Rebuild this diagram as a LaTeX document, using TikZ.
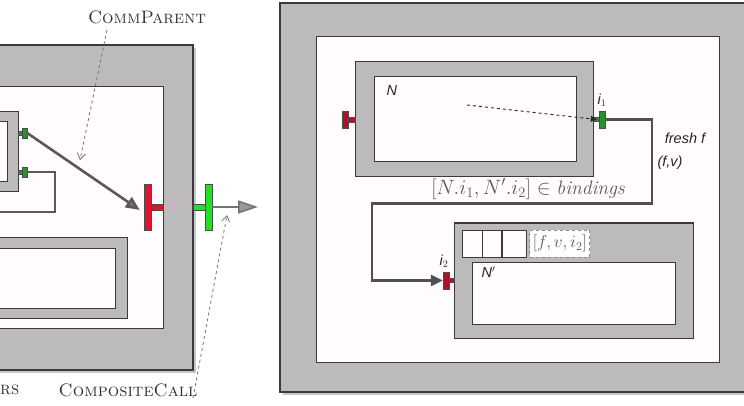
\documentclass[tikz,border=0pt]{standalone}
\usepackage{fontspec}
\newfontfamily\lab{Liberation Sans}
\usetikzlibrary{shadows,arrows.meta}
\definecolor{boxgray}{HTML}{BDBABD}
\definecolor{edge}{HTML}{3A3A3A}
\definecolor{paper}{HTML}{FFFBFF}
\definecolor{redA}{HTML}{E0142E}
\definecolor{greenA}{HTML}{22E022}
\definecolor{redB}{HTML}{B0122E}
\definecolor{greenB}{HTML}{2E8E2E}
\definecolor{wire}{HTML}{505050}
\begin{document}
\begin{tikzpicture}[x=1pt,y=-1pt,
  outerbox/.style={fill=boxgray, draw=edge, line width=1.2pt,
     drop shadow={shadow xshift=2.5pt, shadow yshift=-3pt, opacity=0.45}},
  graybox/.style={fill=boxgray, draw=edge, line width=1pt},
  whitebox/.style={fill=paper, draw=edge, line width=1pt},
  portA/.style={draw=black!70, line width=.5pt, inner sep=0pt, minimum width=7pt, minimum height=46pt},
  portB/.style={draw=black!70, line width=.4pt, inner sep=0pt, minimum width=6pt, minimum height=17pt},
  portS/.style={draw=black!70, line width=.4pt, inner sep=0pt, minimum width=5pt, minimum height=10pt, fill=greenB},
  sclabel/.style={font=\fontsize{18}{21}\selectfont, text=black!80},
  sanslabel/.style={font=\lab\itshape\fontsize{14.5}{16}\selectfont, text=black!85},
  mathlabel/.style={font=\fontsize{19.5}{22}\selectfont, text=black!65},
  pointer/.style={dashed, draw=black!55, line width=.8pt, -{Straight Barb[length=6pt,width=8pt]}},
  thickwire/.style={draw=black!65, line width=2.6pt},
  wirearrow/.style={draw=wire, line width=2.6pt, -{Triangle[length=12pt,width=11pt]}}
]
\path[use as bounding box] (0,0) rectangle (744,406);
\clip (0,0) rectangle (744,406);

% ---------------- left picture ----------------
\path[outerbox] (-20,45) rectangle (193,370);
\path[whitebox] (-20,87) rectangle (163,328);
\path[graybox] (-20,112) rectangle (18,192);
\path[whitebox] (-20,122) rectangle (7,182);
\path[graybox] (-20,237) rectangle (127,318);
\path[whitebox] (-20,248) rectangle (115,308);

% small green ports
\draw[fill=greenB, draw=black!70, line width=.4pt] (18,131) rectangle (22,135);
\node[portS] (g1) at (24.5,133) {};
\draw[fill=greenB, draw=black!70, line width=.4pt] (18,170) rectangle (22,174);
\node[portS] (g2) at (24.5,172) {};

% red port on inner boundary
\draw[fill=redA, draw=black!70, line width=.5pt] (151,204) rectangle (163,210);
\node[portA, fill=redA] (rA) at (147.5,207) {};
% green port on outer boundary
\draw[fill=greenA, draw=black!70, line width=.5pt] (193,204) rectangle (205,210);
\node[portA, fill=greenA] (gA) at (208.5,207) {};

\coordinate (lout) at (-20,212);
\draw[thickwire] (g2.east) -- (55,172) -- (55,212) -- (lout);
\draw[thickwire, -{Triangle[length=14pt,width=12pt,fill=black!55]}] (g1.east) -- ([xshift=-4pt,yshift=-3pt]rA.west);
\coordinate (outend) at (258,207);
\draw[draw=black!55, line width=1.6pt, -{Triangle[length=20pt,width=13pt,fill=black!40]}] (gA.east) -- (outend);

\node[sclabel] (cp) at (147,17) {\textsc{CommParent}};
\node[sclabel] (cc) at (128,390) {\textsc{CompositeCall}};
\node[sclabel, anchor=west, inner sep=0pt] (rs) at (0,390) {\textsc{rs}};
\coordinate (cpa) at (107,30);
\coordinate (cpb) at (80,160);
\draw[pointer] (cpa) -- (cpb);
\coordinate (cca) at (193,398);
\coordinate (ccb) at (227,215);
\draw[pointer] (cca) -- (ccb);

% ---------------- right picture ----------------
\path[outerbox] (280,3) rectangle (770,392);
\path[whitebox] (316,37) rectangle (719,362);
\path[graybox] (355,62) rectangle (593,177);
\path[whitebox] (374,77) rectangle (576,162);
\node[sanslabel, anchor=west] (nl) at (383,91) {N};

% red port left of N
\draw[fill=redB, draw=black!70, line width=.4pt] (348,117) rectangle (355,122);
\node[portB, fill=redB] (rN) at (345,119.5) {};
% green port i1
\draw[fill=greenB, draw=black!70, line width=.4pt] (593,117) rectangle (599,121);
\node[portB, fill=greenB] (i1) at (602,119.5) {};
\node[sanslabel] (i1l) at (602,100) {i$_1$};

\coordinate (dstart) at (467,105);
\draw[dashed, line width=.9pt, draw=black!85, -{Triangle[length=6pt,width=6pt]}] (dstart) -- ([xshift=-2pt]i1.west);

% N' box
\path[graybox] (454,223) rectangle (693,338);
\path[whitebox] (472,262) rectangle (675,324);
\node[sanslabel, anchor=west] (npl) at (478,272) {N$'$};
\node[draw=edge, line width=.9pt, fill=paper, minimum width=20pt, minimum height=27pt, inner sep=0pt] (q1) at (472,243.5) {};
\node[draw=edge, line width=.9pt, fill=paper, minimum width=19pt, minimum height=27pt, inner sep=0pt, anchor=west] (q2) at (q1.east) {};
\node[draw=edge, line width=.9pt, fill=paper, minimum width=24pt, minimum height=27pt, inner sep=0pt, anchor=west] (q3) at (q2.east) {};
\node[draw=black!45, dashed, line width=1pt, fill=white, minimum width=60pt, minimum height=27pt, inner sep=0pt, anchor=west, mathlabel, font=\fontsize{17.5}{20}\selectfont] (q4) at ([xshift=2pt]q3.east) {$[f,v,i_2]$};

% red port i2
\draw[fill=redB, draw=black!70, line width=.4pt] (449,278) rectangle (454,282);
\node[portB, fill=redB] (i2) at (446,280.5) {};
\node[sanslabel] (i2l) at (444,261) {i$_2$};

\draw[wirearrow] (i1.east) -- (652,119.5) -- (652,203.5) -- (372,203.5) -- (372,280.5) -- (i2.west);

\node[sanslabel] (fresh) at (685,138) {fresh f};
\node[sanslabel] (fv) at (670,163) {(f,v)};
\node[mathlabel] (bind) at (528,189) {$[N.i_1, N'.i_2] \in \mathit{bindings}$};
\end{tikzpicture}
\end{document}
